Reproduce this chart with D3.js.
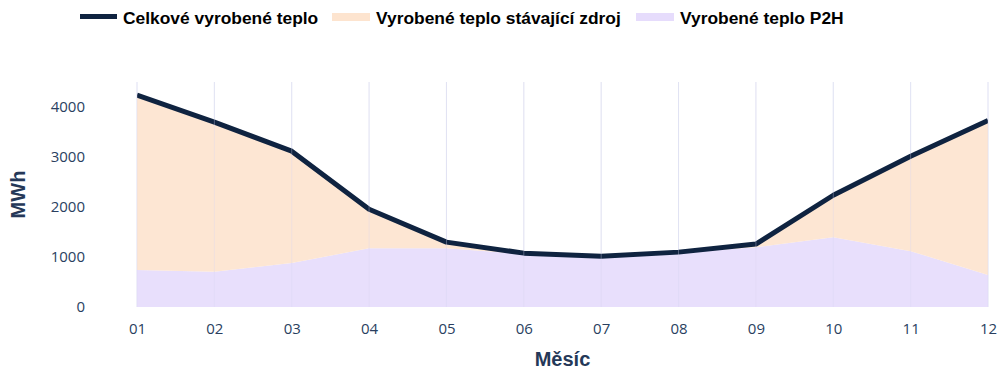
<!DOCTYPE html>
<html>
<head>
<meta charset="utf-8">
<script src="https://cdn.jsdelivr.net/npm/d3@7"></script>
<style>
  body { margin: 0; background: #fff; }
  svg { display: block; }
</style>
</head>
<body>
<div id="chart"></div>
<script>
const months = ["01","02","03","04","05","06","07","08","09","10","11","12"]
// Vyrobené teplo P2H (MWh)
const p2h = [740, 705, 880, 1170, 1170, 1060, 1000, 1085, 1190, 1390, 1115, 640]
// Vyrobené teplo stávající zdroj (MWh)
const existing = [3490, 2985, 2230, 780, 125, 15, 15, 10, 65, 840, 1895, 3080]
// Celkové vyrobené teplo (MWh)
const total = [4230, 3690, 3110, 1950, 1295, 1075, 1015, 1095, 1255, 2230, 3010, 3720]
const yTicks = [0, 1000, 2000, 3000, 4000]

const legendItems = [
  {label: "Celkové vyrobené teplo", type: "line", color: "#0f2340", x: 80},
  {label: "Vyrobené teplo stávající zdroj", type: "area", color: "#fde4cf", x: 332},
  {label: "Vyrobené teplo P2H", type: "area", color: "#e6dcfc", x: 636}
]

const width = 1007
const height = 376
const plotLeft = 137, plotRight = 988, plotTop = 82, plotBottom = 307

const svg = d3.select("#chart").append("svg")
  .attr("width", width)
  .attr("height", height)

const x = d3.scalePoint().domain(months).range([plotLeft, plotRight])
const y = d3.scaleLinear().domain([0, 4490]).range([plotBottom, plotTop])

svg.append("defs").append("clipPath").attr("id", "plot-clip")
  .append("rect")
    .attr("x", plotLeft).attr("y", plotTop)
    .attr("width", plotRight - plotLeft).attr("height", plotBottom - plotTop)

// vertical grid
svg.append("g")
  .selectAll("line")
  .data(months)
  .join("line")
    .attr("x1", d => x(d)).attr("x2", d => x(d))
    .attr("y1", plotTop).attr("y2", plotBottom)
    .attr("stroke", "#e6eaf5")
    .attr("stroke-width", 1)

const rows = months.map((m, i) => ({month: m, p2h: p2h[i], existing: existing[i]}))
const stack = d3.stack().keys(["p2h", "existing"])(rows)
const fills = {p2h: "#e6dcfc", existing: "#fde4cf"}

const plot = svg.append("g").attr("clip-path", "url(#plot-clip)")

plot.selectAll("path.area")
  .data(stack)
  .join("path")
    .attr("class", "area")
    .attr("fill", d => fills[d.key])
    .attr("fill-opacity", 0.92)
    .attr("d", d3.area()
      .x(d => x(d.data.month))
      .y0(d => y(d[0]))
      .y1(d => y(d[1])))

// grid shows faintly through the areas in the reference
svg.append("g")
  .selectAll("line")
  .data(months)
  .join("line")
    .attr("x1", d => x(d)).attr("x2", d => x(d))
    .attr("y1", plotTop).attr("y2", plotBottom)
    .attr("stroke", "#d9d6f0")
    .attr("stroke-opacity", 0.35)

plot.append("path")
  .datum(total)
  .attr("fill", "none")
  .attr("stroke", "#0f2340")
  .attr("stroke-width", 5)
  .attr("stroke-linejoin", "round")
  .attr("d", d3.line()
    .x((d, i) => x(months[i]))
    .y(d => y(d)))

// axes
const xAxis = svg.append("g")
  .attr("transform", `translate(0, ${plotBottom})`)
  .call(d3.axisBottom(x).tickSize(0).tickPadding(16))
xAxis.select(".domain").remove()
xAxis.selectAll("text")
  .attr("font-family", "'Open Sans', sans-serif")
  .attr("font-size", 15)
  .attr("fill", "#2a3f5f")

const yAxis = svg.append("g")
  .attr("transform", `translate(${plotLeft}, 0)`)
  .call(d3.axisLeft(y).tickValues(yTicks).tickFormat(d3.format("d")).tickSize(0).tickPadding(52))
yAxis.select(".domain").remove()
yAxis.selectAll("text")
  .attr("font-family", "'Open Sans', sans-serif")
  .attr("font-size", 15)
  .attr("fill", "#2a3f5f")

// axis titles
svg.append("text")
  .attr("x", (plotLeft + plotRight) / 2)
  .attr("y", 366)
  .attr("text-anchor", "middle")
  .attr("font-family", "'Liberation Sans', Arial, sans-serif")
  .attr("font-weight", "bold")
  .attr("font-size", 20)
  .attr("fill", "#253858")
  .text("Měsíc")

svg.append("text")
  .attr("transform", `translate(25, ${(plotTop + plotBottom) / 2}) rotate(-90)`)
  .attr("text-anchor", "middle")
  .attr("font-family", "'Liberation Sans', Arial, sans-serif")
  .attr("font-weight", "bold")
  .attr("font-size", 20)
  .attr("fill", "#253858")
  .text("MWh")

// legend
const legend = svg.append("g")
legendItems.forEach(item => {
  const g = legend.append("g").attr("transform", `translate(${item.x}, 0)`)
  if (item.type === "line") {
    g.append("rect").attr("x", 0).attr("y", 14).attr("width", 37).attr("height", 5).attr("fill", item.color)
  } else {
    g.append("rect").attr("x", 0).attr("y", 13).attr("width", 38).attr("height", 8).attr("fill", item.color)
  }
  g.append("text")
    .attr("x", item.type === "line" ? 43 : 44)
    .attr("y", 24)
    .attr("font-family", "'Liberation Sans', Arial, sans-serif")
    .attr("font-weight", "bold")
    .attr("font-size", 17.4)
    .attr("fill", "#000")
    .text(item.label)
})
</script>
</body>
</html>
